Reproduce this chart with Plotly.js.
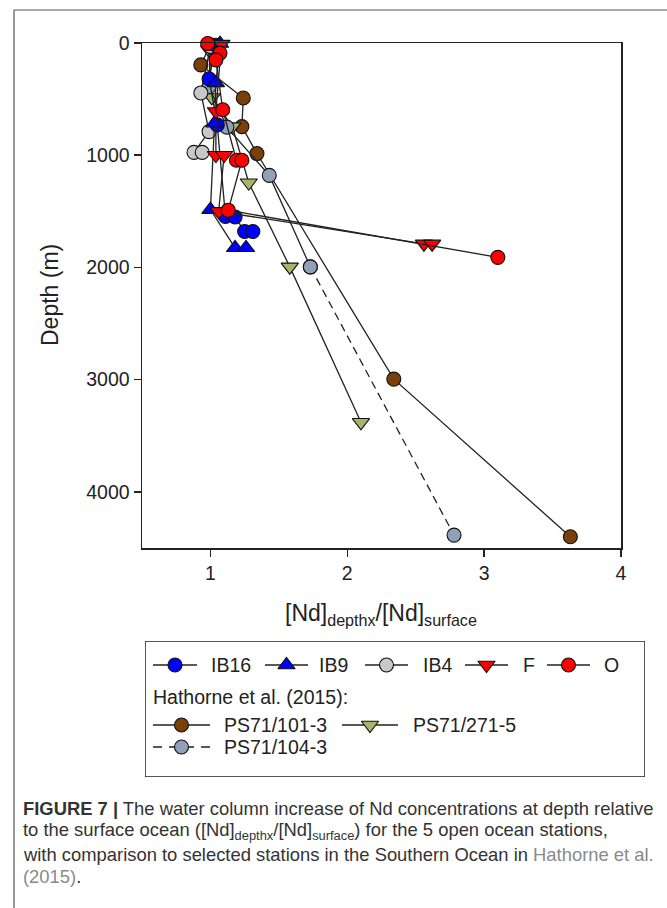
<!DOCTYPE html>
<html><head><meta charset="utf-8">
<script src="https://cdn.plot.ly/plotly-3.0.1.min.js"></script>
<style>html,body{margin:0;padding:0;background:#fff}#chart{width:667px;height:908px}</style>
</head><body><div id="chart"></div>
<script>
// ---- data ----
const ib16Ratio = [1.04, 0.99, 1.05, 1.11, 1.18, 1.25, 1.31];
const ib16Depth = [20, 320, 730, 1545, 1550, 1680, 1680];
const ib9Ratio = [1.07, 1.04, 1.03, 1.00, 1.18, 1.26];
const ib9Depth = [5, 355, 715, 1485, 1825, 1825];
const ib4Ratio = [1.00, 0.93, 0.99, 0.88, 0.94];
const ib4Depth = [30, 445, 790, 975, 975];
const fRatio = [1.08, 1.04, 1.04, 1.10, 1.06, 2.56, 2.62];
const fDepth = [10, 610, 1000, 1000, 1500, 1790, 1790];
const oRatio = [0.98, 1.07, 1.04, 1.09, 1.19, 1.23, 1.13, 3.10];
const oDepth = [5, 90, 150, 595, 1045, 1045, 1490, 1910];
const ps101Ratio = [1.00, 0.93, 1.24, 1.23, 1.34, 2.34, 3.63];
const ps101Depth = [15, 195, 490, 745, 985, 2995, 4400];
const ps271Ratio = [0.99, 1.01, 1.16, 1.28, 1.58, 2.10];
const ps271Depth = [60, 485, 745, 1245, 1995, 3380];
const ps104Ratio = [1.00, 0.99, 1.12, 1.43, 1.73, 2.78];
const ps104Depth = [25, 390, 750, 1180, 1995, 4385];
const xTickVals = [1, 2, 3, 4];
const yTickVals = [0, 1000, 2000, 3000, 4000];
const seriesNames = ["IB16", "IB9", "IB4", "F", "O", "PS71/101-3", "PS71/271-5", "PS71/104-3"];

// ---- styles ----
const W = 667, H = 908;
const FONT = "Liberation Sans, Arial, Helvetica, sans-serif";
const px = p => p / W, py = p => 1 - p / H;
const styles = {
  "IB16": {symbol: "circle", color: "#0000ff", size: 14},
  "IB9": {symbol: "triangle-up", color: "#0000ff", size: 15},
  "IB4": {symbol: "circle", color: "#c8c8c8", size: 14},
  "F": {symbol: "triangle-down", color: "#ff0000", size: 15},
  "O": {symbol: "circle", color: "#ff0000", size: 14},
  "PS71/101-3": {symbol: "circle", color: "#7b3f0a", size: 14},
  "PS71/271-5": {symbol: "triangle-down", color: "#a9b36a", size: 15},
  "PS71/104-3": {symbol: "circle", color: "#8fa0b8", size: 14}
};
const LINE = "#222";

function series(name, xs, ys, dash) {
  const s = styles[name];
  return {
    type: "scatter", mode: "lines+markers", x: xs, y: ys, name: name,
    xaxis: "x", yaxis: "y", showlegend: false, cliponaxis: false,
    line: {color: LINE, width: 1.3, dash: dash || "solid"},
    marker: {symbol: s.symbol, color: s.color, size: s.size, line: {color: "#111", width: 1.1}}
  };
}

const traces = [
  series("PS71/101-3", ps101Ratio, ps101Depth),
  series("PS71/271-5", ps271Ratio, ps271Depth),
  series("PS71/104-3", ps104Ratio.slice(0, 5), ps104Depth.slice(0, 5)),
  series("PS71/104-3", ps104Ratio.slice(4), ps104Depth.slice(4), "8px,5px"),
  series("IB4", ib4Ratio, ib4Depth),
  series("IB16", ib16Ratio, ib16Depth),
  series("IB9", ib9Ratio, ib9Depth),
  series("F", fRatio, fDepth),
  series("O", oRatio, oDepth)
];

// ---- custom legend (pixel coordinates on a hidden axis pair) ----
const legendItems = [
  {name: "IB16", y: 665, x0: 153, x1: 197, tx: 209},
  {name: "IB9", y: 665, x0: 265, x1: 308, tx: 317},
  {name: "IB4", y: 665, x0: 365, x1: 408, tx: 421},
  {name: "F", y: 665, x0: 465, x1: 508, tx: 521},
  {name: "O", y: 665, x0: 547, x1: 590, tx: 602},
  {name: "PS71/101-3", y: 725, x0: 153, x1: 210, tx: 222},
  {name: "PS71/271-5", y: 725, x0: 342, x1: 398, tx: 411},
  {name: "PS71/104-3", y: 747, x0: 153, x1: 210, tx: 222, dash: "9px,7px"}
];
const annotations = [];
legendItems.forEach(it => {
  const s = styles[it.name];
  traces.push({
    type: "scatter", mode: "lines", x: [it.x0, it.x1], y: [it.y, it.y], xaxis: "x2", yaxis: "y2",
    showlegend: false, hoverinfo: "skip", line: {color: LINE, width: 1.5, dash: it.dash || "solid"}
  });
  traces.push({
    type: "scatter", mode: "markers", x: [(it.x0 + it.x1) / 2], y: [it.y], xaxis: "x2", yaxis: "y2",
    showlegend: false, hoverinfo: "skip",
    marker: {symbol: s.symbol, color: s.color, size: s.size, line: {color: "#111", width: 1.1}}
  });
  annotations.push({xref: "x2", yref: "y2", x: it.tx, y: it.y, xanchor: "left", yanchor: "middle",
    text: it.name, showarrow: false, font: {family: FONT, size: 19.5, color: "#222"}});
});
annotations.push({xref: "x2", yref: "y2", x: 151, y: 697, xanchor: "left", yanchor: "middle",
  text: "Hathorne et al. (2015):", showarrow: false, font: {family: FONT, size: 19.5, color: "#222"}});

// axis titles
annotations.push({xref: "paper", yref: "paper", x: px(381), y: py(598), xanchor: "center", yanchor: "top",
  text: "[Nd]<sub>depthx</sub>/[Nd]<sub>surface</sub>", showarrow: false, font: {family: FONT, size: 23, color: "#222"}});
annotations.push({xref: "paper", yref: "paper", x: px(50), y: py(295), xanchor: "center", yanchor: "middle",
  textangle: -90, text: "Depth (m)", showarrow: false, font: {family: FONT, size: 23, color: "#222"}});

// caption
const capFont = {family: FONT, size: 18.4, color: "#333"};
const capLines = [
  "<b>FIGURE 7 |</b> The water column increase of Nd concentrations at depth relative",
  "to the surface ocean ([Nd]<sub>depthx</sub>/[Nd]<sub>surface</sub>) for the 5 open ocean stations,",
  "with comparison to selected stations in the Southern Ocean in <span style='color:#8a8a8a'>Hathorne et al.</span>",
  "<span style='color:#8a8a8a'>(2015)</span>."
];
const capY = [808, 831, 854, 876];
capLines.forEach((t, i) => annotations.push({xref: "paper", yref: "paper", x: px(21), y: py(capY[i]),
  xanchor: "left", yanchor: "middle", text: t, showarrow: false, font: capFont}));

const axisCommon = {
  showgrid: false, zeroline: false, ticks: "outside", ticklen: 7, tickwidth: 1.5, tickcolor: "#222",
  showline: true, linecolor: "#222", linewidth: 1.5, mirror: true,
  tickfont: {family: FONT, size: 19.5, color: "#222"}, fixedrange: true
};

const layout = {
  width: W, height: H, margin: {l: 0, r: 0, t: 0, b: 0},
  paper_bgcolor: "#fff", plot_bgcolor: "#fff", showlegend: false,
  xaxis: Object.assign({}, axisCommon, {domain: [px(142), px(621)], range: [0.5, 4], tickvals: xTickVals, anchor: "y"}),
  yaxis: Object.assign({}, axisCommon, {domain: [py(548), py(43)], range: [4500, 0], tickvals: yTickVals, anchor: "x"}),
  xaxis2: {domain: [px(145), px(645)], range: [145, 645], visible: false, fixedrange: true, anchor: "y2"},
  yaxis2: {domain: [py(777), py(641)], range: [777, 641], visible: false, fixedrange: true, anchor: "x2"},
  annotations: annotations,
  shapes: [
    {type: "rect", xref: "x2", yref: "y2", x0: 145, x1: 645, y0: 641, y1: 777, line: {color: "#222", width: 1.5}},
    {type: "line", xref: "paper", yref: "paper", x0: px(14), x1: 1.02, y0: py(10), y1: py(10), line: {color: "#555", width: 1.2}},
    {type: "line", xref: "paper", yref: "paper", x0: px(14), x1: px(14), y0: py(10), y1: -0.02, line: {color: "#555", width: 1.2}}
  ]
};

Plotly.newPlot("chart", traces, layout, {staticPlot: true, displayModeBar: false});
</script></body></html>
